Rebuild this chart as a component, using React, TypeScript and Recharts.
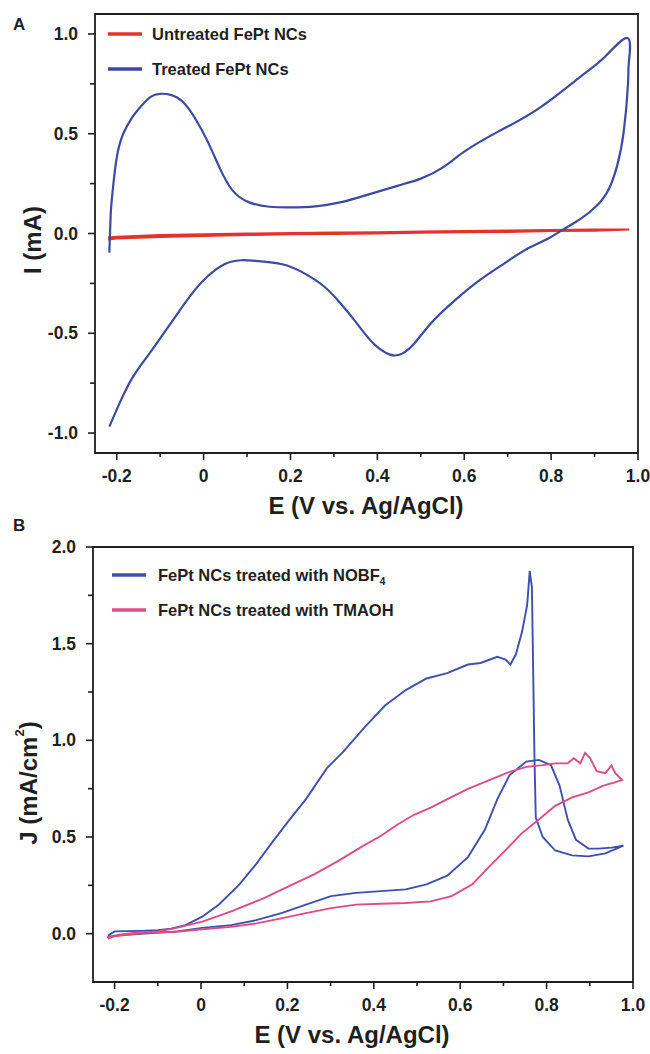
import React from "react";
import { LineChart, Line, XAxis, YAxis, ReferenceArea, Legend } from "recharts";

const FONT = "'Liberation Sans', Arial, Helvetica, sans-serif";
const INK = "#1f1f1f";

// shared x axis (E vs Ag/AgCl)
const xTicks = [-0.2, -0.1, 0, 0.1, 0.2, 0.3, 0.4, 0.5, 0.6, 0.7, 0.8, 0.9, 1.0];
const xMajor = [-0.2, 0, 0.2, 0.4, 0.6, 0.8, 1.0];
const xLabels = ["-0.2", "0", "0.2", "0.4", "0.6", "0.8", "1.0"];

// panel A y axis
const yTicksA = [-1, -0.75, -0.5, -0.25, 0, 0.25, 0.5, 0.75, 1];
const yMajorA = [-1, -0.5, 0, 0.5, 1];
const yLabelsA = ["-1.0", "-0.5", "0.0", "0.5", "1.0"];

// panel B y axis
const yTicksB = [0, 0.25, 0.5, 0.75, 1, 1.25, 1.5, 1.75, 2];
const yMajorB = [0, 0.5, 1, 1.5, 2];
const yLabelsB = ["0.0", "0.5", "1.0", "1.5", "2.0"];

const seriesA = ["Untreated FePt NCs", "Treated FePt NCs"];
const seriesB = ["FePt NCs treated with NOBF4", "FePt NCs treated with TMAOH"];

// [E, I] pairs
const untreatedA = [
  [-0.22, -0.03], [-0.2, -0.025], [-0.1, -0.018], [0, -0.012], [0.1, -0.008],
  [0.2, -0.004], [0.3, -0.002], [0.4, 0.0], [0.5, 0.004], [0.6, 0.006],
  [0.7, 0.008], [0.8, 0.012], [0.9, 0.014], [0.98, 0.02], [0.9, 0.02],
  [0.8, 0.018], [0.7, 0.015], [0.6, 0.012], [0.5, 0.01], [0.4, 0.006],
  [0.3, 0.005], [0.2, 0.003], [0.1, 0.0], [0, -0.004], [-0.1, -0.008],
  [-0.2, -0.016], [-0.22, -0.02],
];

const treatedA = [
  [-0.217, -0.968], [-0.19, -0.834], [-0.162, -0.716], [-0.124, -0.599], [-0.086, -0.482],
  [-0.048, -0.364], [-0.019, -0.28], [0.01, -0.213], [0.048, -0.154], [0.086, -0.134],
  [0.124, -0.138], [0.181, -0.154], [0.229, -0.196], [0.276, -0.263], [0.314, -0.347],
  [0.352, -0.448], [0.39, -0.549], [0.429, -0.607], [0.457, -0.602], [0.486, -0.549],
  [0.524, -0.448], [0.581, -0.33], [0.638, -0.23], [0.695, -0.146], [0.743, -0.079],
  [0.79, -0.029], [0.829, 0.022], [0.867, 0.072], [0.905, 0.139], [0.933, 0.223],
  [0.952, 0.34], [0.967, 0.508], [0.977, 0.75], [0.979, 0.86], [0.976, 0.98],
  [0.924, 0.886], [0.867, 0.785], [0.771, 0.626], [0.676, 0.508], [0.6, 0.41],
  [0.55, 0.33], [0.5, 0.275], [0.448, 0.24], [0.371, 0.19], [0.314, 0.156],
  [0.257, 0.136], [0.2, 0.131], [0.152, 0.134], [0.105, 0.156], [0.067, 0.215],
  [0.038, 0.324], [0.01, 0.458], [-0.019, 0.575], [-0.048, 0.66], [-0.076, 0.695],
  [-0.1, 0.7], [-0.122, 0.685], [-0.145, 0.635], [-0.165, 0.58], [-0.185, 0.5],
  [-0.2, 0.38], [-0.21, 0.2], [-0.214, 0.09], [-0.217, -0.096],
];

// [E, J] pairs
const nobf4B = [
  [-0.215, -0.01], [-0.2, 0.012], [-0.17, 0.013], [-0.13, 0.015], [-0.1, 0.018],
  [-0.069, 0.026], [-0.036, 0.044], [0.003, 0.088], [0.041, 0.15], [0.089, 0.255],
  [0.128, 0.361], [0.166, 0.476], [0.205, 0.59], [0.243, 0.696], [0.291, 0.855],
  [0.33, 0.943], [0.378, 1.066], [0.426, 1.18], [0.474, 1.26], [0.522, 1.32],
  [0.57, 1.348], [0.618, 1.392], [0.647, 1.4], [0.686, 1.432], [0.705, 1.418],
  [0.716, 1.392], [0.729, 1.445], [0.743, 1.56], [0.755, 1.7], [0.761, 1.877],
  [0.766, 1.79], [0.769, 1.35], [0.772, 0.9], [0.775, 0.6], [0.791, 0.5],
  [0.82, 0.43], [0.859, 0.405], [0.897, 0.4], [0.936, 0.415], [0.978, 0.455],
  [0.95, 0.445], [0.92, 0.44], [0.897, 0.44], [0.868, 0.485], [0.849, 0.59],
  [0.83, 0.766], [0.81, 0.872], [0.782, 0.899], [0.753, 0.89], [0.714, 0.819],
  [0.686, 0.696], [0.657, 0.537], [0.618, 0.396], [0.57, 0.3], [0.522, 0.255],
  [0.474, 0.229], [0.416, 0.22], [0.359, 0.211], [0.301, 0.194], [0.243, 0.15],
  [0.186, 0.106], [0.128, 0.07], [0.07, 0.044], [0.003, 0.03], [-0.055, 0.012],
  [-0.13, 0.0], [-0.2, -0.01], [-0.215, -0.02],
];

const tmaohB = [
  [-0.215, -0.025], [-0.19, -0.005], [-0.15, 0.005], [-0.1, 0.012], [-0.064, 0.026],
  [0.003, 0.062], [0.07, 0.115], [0.147, 0.185], [0.205, 0.247], [0.263, 0.308],
  [0.32, 0.379], [0.378, 0.458], [0.416, 0.505], [0.455, 0.565], [0.493, 0.615],
  [0.532, 0.652], [0.57, 0.696], [0.618, 0.749], [0.666, 0.793], [0.714, 0.837],
  [0.753, 0.863], [0.791, 0.872], [0.82, 0.881], [0.849, 0.881], [0.863, 0.907],
  [0.878, 0.881], [0.889, 0.935], [0.901, 0.907], [0.916, 0.84], [0.936, 0.83],
  [0.95, 0.87], [0.959, 0.83], [0.975, 0.795], [0.955, 0.78], [0.945, 0.775],
  [0.93, 0.765], [0.897, 0.731], [0.859, 0.705], [0.82, 0.661], [0.782, 0.59],
  [0.743, 0.52], [0.705, 0.432], [0.666, 0.344], [0.628, 0.255], [0.58, 0.194],
  [0.532, 0.167], [0.474, 0.159], [0.416, 0.155], [0.359, 0.15], [0.301, 0.132],
  [0.243, 0.106], [0.186, 0.079], [0.128, 0.053], [0.07, 0.035], [0.003, 0.023],
  [-0.064, 0.009], [-0.13, 0.005], [-0.218, -0.018],
];

const toPts = (arr: number[][]) => arr.map(([x, y]) => ({ x, y }));

const textStyle = { fontFamily: FONT, fontWeight: "bold" as const, fill: INK };

const makeXTick = (majors: number[], labels: string[]) => (props: any) => {
  const { x, y, payload } = props;
  const i = majors.findIndex((m) => Math.abs(m - payload.value) < 1e-6);
  return (
    <g>
      <line x1={x} x2={x} y1={y} y2={y + (i >= 0 ? 7 : 4)} stroke={INK} strokeWidth={1.6} />
      {i >= 0 && (
        <text x={x} y={y + 29} textAnchor="middle" fontSize={17.5} {...textStyle}>
          {labels[i]}
        </text>
      )}
    </g>
  );
};

const makeYTick = (majors: number[], labels: string[]) => (props: any) => {
  const { x, y, payload } = props;
  const i = majors.findIndex((m) => Math.abs(m - payload.value) < 1e-6);
  return (
    <g>
      <line x1={x - (i >= 0 ? 7 : 5)} x2={x} y1={y} y2={y} stroke={INK} strokeWidth={1.6} />
      {i >= 0 && (
        <text x={x - 17} y={y + 6} textAnchor="end" fontSize={17.5} {...textStyle}>
          {labels[i]}
        </text>
      )}
    </g>
  );
};

// legend rows follow the order of the names array, colours come from the payload
const legendBox = (names: string[], lineX: number, textX: number, rowY: number[]) => (props: any) => (
  <svg width={650} height={120}>
    {names.map((name, i) => {
      const entry = (props.payload || []).find((p: any) => p.value === name);
      const sub = name.endsWith("NOBF4");
      return (
        <g key={name}>
          <line x1={lineX} x2={lineX + 34} y1={rowY[i]} y2={rowY[i]} stroke={entry ? entry.color : INK} strokeWidth={3.5} />
          <text x={textX} y={rowY[i] + 6} fontSize={16.5} {...textStyle}>
            {sub ? name.slice(0, -1) : name}
            {sub && (
              <tspan fontSize={10} dy={4}>
                4
              </tspan>
            )}
          </text>
        </g>
      );
    })}
  </svg>
);

function PanelA() {
  return (
    <LineChart width={650} height={535} margin={{ top: 14, right: 12, bottom: 0, left: 0 }}>
      <XAxis
        dataKey="x"
        type="number"
        domain={[-0.25, 1.0]}
        ticks={xTicks}
        interval={0}
        height={82}
        tickSize={0}
        tickMargin={0}
        tickLine={false}
        axisLine={false}
        tick={makeXTick(xMajor, xLabels)}
        allowDataOverflow
        label={() => (
          <g>
            <text x={366} y={514} textAnchor="middle" fontSize={24} {...textStyle}>
              E (V vs. Ag/AgCl)
            </text>
            <text x={13} y={531} fontSize={17} {...textStyle}>
              B
            </text>
          </g>
        )}
      />
      <YAxis
        dataKey="y"
        type="number"
        domain={[-1.1, 1.1]}
        ticks={yTicksA}
        interval={0}
        width={95}
        tickSize={0}
        tickMargin={0}
        tickLine={false}
        axisLine={false}
        tick={makeYTick(yMajorA, yLabelsA)}
        allowDataOverflow
        label={() => (
          <g>
            <text
              x={32}
              y={240}
              transform="rotate(-90, 32, 240)"
              textAnchor="middle"
              dominantBaseline="central"
              fontSize={24}
              {...textStyle}
            >
              I (mA)
            </text>
            <text x={13} y={30} fontSize={17} {...textStyle}>
              A
            </text>
          </g>
        )}
      />
      <ReferenceArea x1={-0.25} x2={1.0} y1={-1.1} y2={1.1} fill="none" stroke={INK} strokeWidth={1.8} ifOverflow="visible" />
      <Legend
        layout="vertical"
        align="center"
        verticalAlign="middle"
        wrapperStyle={{ top: 0, left: 0, width: 650, height: 120 }}
        content={legendBox(seriesA, 108, 152, [34, 69])}
      />
      <Line
        name={seriesA[0]}
        data={toPts(untreatedA)}
        dataKey="y"
        type="linear"
        stroke="#e5322c"
        strokeWidth={2}
        dot={false}
        isAnimationActive={false}
      />
      <Line
        name={seriesA[1]}
        data={toPts(treatedA)}
        dataKey="y"
        type="natural"
        stroke="#3c4ba0"
        strokeWidth={2.2}
        dot={false}
        isAnimationActive={false}
      />
    </LineChart>
  );
}

function PanelB() {
  return (
    <LineChart width={650} height={519} margin={{ top: 12, right: 17, bottom: 0, left: 0 }}>
      <XAxis
        dataKey="x"
        type="number"
        domain={[-0.25, 1.0]}
        ticks={xTicks}
        interval={0}
        height={72}
        tickSize={0}
        tickMargin={0}
        tickLine={false}
        axisLine={false}
        tick={makeXTick(xMajor, xLabels)}
        allowDataOverflow
        label={() => (
          <text x={352} y={508} textAnchor="middle" fontSize={24} {...textStyle}>
            E (V vs. Ag/AgCl)
          </text>
        )}
      />
      <YAxis
        dataKey="y"
        type="number"
        domain={[-0.25, 2.0]}
        ticks={yTicksB}
        interval={0}
        width={93}
        tickSize={0}
        tickMargin={0}
        tickLine={false}
        axisLine={false}
        tick={makeYTick(yMajorB, yLabelsB)}
        allowDataOverflow
        label={() => (
          <text
            x={28}
            y={248}
            transform="rotate(-90, 28, 248)"
            textAnchor="middle"
            dominantBaseline="central"
            fontSize={24}
            {...textStyle}
          >
            J (mA/cm
            <tspan fontSize={13} dy={-9}>
              2
            </tspan>
            <tspan dy={9}>)</tspan>
          </text>
        )}
      />
      <ReferenceArea x1={-0.25} x2={1.0} y1={-0.25} y2={2.0} fill="none" stroke={INK} strokeWidth={1.8} ifOverflow="visible" />
      <Legend
        layout="vertical"
        align="center"
        verticalAlign="middle"
        wrapperStyle={{ top: 0, left: 0, width: 650, height: 120 }}
        content={legendBox(seriesB, 112, 158, [40, 75])}
      />
      <Line
        name={seriesB[0]}
        data={toPts(nobf4B)}
        dataKey="y"
        type="linear"
        stroke="#3f4fae"
        strokeWidth={1.9}
        dot={false}
        isAnimationActive={false}
      />
      <Line
        name={seriesB[1]}
        data={toPts(tmaohB)}
        dataKey="y"
        type="linear"
        stroke="#e04b87"
        strokeWidth={1.9}
        dot={false}
        isAnimationActive={false}
      />
    </LineChart>
  );
}

export default function App() {
  return (
    <div style={{ position: "absolute", left: 0, top: 0, width: 650, height: 1054, background: "#fff" }}>
      <PanelA />
      <PanelB />
    </div>
  );
}
